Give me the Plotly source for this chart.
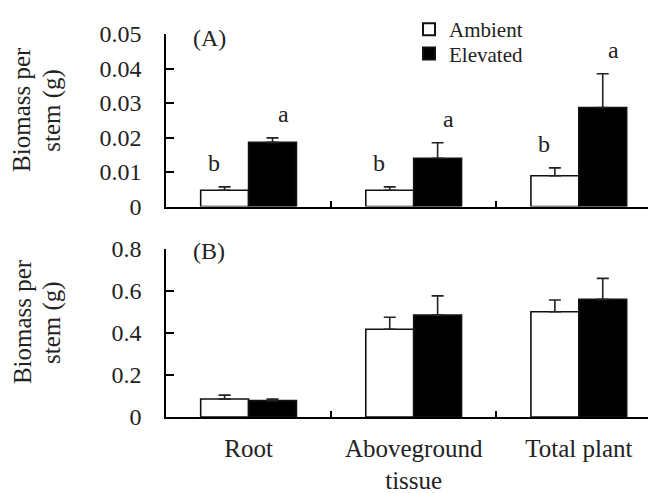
import plotly.graph_objects as go

categories = ["Root", "Aboveground<br>tissue", "Total plant"]

# Panel A
a_ambient = [0.0047, 0.0047, 0.0089]
a_ambient_err = [0.0010, 0.0010, 0.0023]
a_elevated = [0.0186, 0.0140, 0.0287]
a_elevated_err = [0.0013, 0.0045, 0.0098]
a_letters_ambient = ["b", "b", "b"]
a_letters_elevated = ["a", "a", "a"]

# Panel B
b_ambient = [0.086, 0.418, 0.501]
b_ambient_err = [0.018, 0.057, 0.056]
b_elevated = [0.078, 0.485, 0.560]
b_elevated_err = [0.008, 0.092, 0.100]

y_title_lines = ["Biomass per", "stem (g)"]

FONT = "Liberation Serif"
TXT = "#222222"

fig = go.Figure()

def bars(y, err, name, fill, xa, ya, show, leg):
    return go.Bar(
        x=categories, y=y, name=name, xaxis=xa, yaxis=ya,
        marker=dict(color=fill, line=dict(color="#111111", width=1.6)),
        error_y=dict(type="data", array=err, arrayminus=[0] * len(err),
                     symmetric=False, color="#222222", thickness=1.6, width=6),
        showlegend=show, legendgroup=name, legend=leg,
    )

fig.add_trace(bars(a_ambient, a_ambient_err, "Ambient", "white", "x", "y", True, "legend"))
fig.add_trace(bars(a_elevated, a_elevated_err, "Elevated", "black", "x", "y", True, "legend2"))
fig.add_trace(bars(b_ambient, b_ambient_err, "Ambient", "white", "x2", "y2", False, "legend"))
fig.add_trace(bars(b_elevated, b_elevated_err, "Elevated", "black", "x2", "y2", False, "legend2"))

ann = []
offset = 0.21
for i, c in enumerate(categories):
    ann.append(dict(x=c, y=a_ambient[i] + a_ambient_err[i], xref="x", yref="y",
                    text=a_letters_ambient[i], showarrow=False, xshift=-offset * 165,
                    yshift=24, font=dict(family=FONT, size=24, color=TXT)))
    ann.append(dict(x=c, y=a_elevated[i] + a_elevated_err[i], xref="x", yref="y",
                    text=a_letters_elevated[i], showarrow=False, xshift=offset * 165,
                    yshift=24, font=dict(family=FONT, size=24, color=TXT)))

ann.append(dict(x=0.05, y=0.975, xref="paper", yref="y domain", text="(A)",
                showarrow=False, xanchor="left", yanchor="middle",
                font=dict(family=FONT, size=24, color=TXT)))
ann.append(dict(x=0.05, y=0.99, xref="paper", yref="y2 domain", text="(B)",
                showarrow=False, xanchor="left", yanchor="middle",
                font=dict(family=FONT, size=24, color=TXT)))
for yc in (0.802, 0.248):
    for xc, line in zip((-0.289, -0.229), y_title_lines):
        ann.append(dict(x=xc, y=yc, xref="paper", yref="paper", text=line,
                        textangle=-90, showarrow=False, xanchor="center",
                        yanchor="middle",
                        font=dict(family=FONT, size=25, color=TXT)))

xcommon = dict(type="category", range=[-0.5, 2.516], showline=True, linecolor="black",
               linewidth=1.6, ticks="inside", tickson="boundaries", ticklen=6,
               tickcolor="black", tickwidth=1.5, showgrid=False, zeroline=False,
               tickfont=dict(family=FONT, size=25, color=TXT))
ycommon = dict(showline=True, linecolor="black", linewidth=1.6, ticks="inside",
               ticklen=8, tickcolor="black", tickwidth=1.5, showgrid=False,
               zeroline=False, ticklabelstandoff=18,
               tickfont=dict(family=FONT, size=24, color=TXT))

legcommon = dict(x=0.488, xanchor="left", yanchor="top", bgcolor="rgba(0,0,0,0)",
                 font=dict(family=FONT, size=21, color=TXT), itemsizing="constant")

fig.update_layout(
    width=656, height=493,
    margin=dict(l=158, r=0, t=26, b=84, autoexpand=False),
    paper_bgcolor="white", plot_bgcolor="white",
    barmode="group", bargap=0.42, bargroupgap=0,
    xaxis=dict(xcommon, anchor="y", domain=[0, 1], showticklabels=False),
    yaxis=dict(ycommon, anchor="x", domain=[0.5496, 1], range=[0, 0.05],
               tickvals=[0, 0.01, 0.02, 0.03, 0.04, 0.05],
               ticktext=["0", "0.01", "0.02", "0.03", "0.04", "0.05"]),
    xaxis2=dict(xcommon, anchor="y2", domain=[0, 1], matches="x",
                ticklabelstandoff=8),
    yaxis2=dict(ycommon, anchor="x2", domain=[0, 0.4386], range=[0, 0.8],
                tickvals=[0, 0.2, 0.4, 0.6, 0.8],
                ticktext=["0", "0.2", "0.4", "0.6", "0.8"]),
    legend=dict(legcommon, y=1.065),
    legend2=dict(legcommon, y=1.002),
    annotations=ann,
)

fig.write_html("out.html")
